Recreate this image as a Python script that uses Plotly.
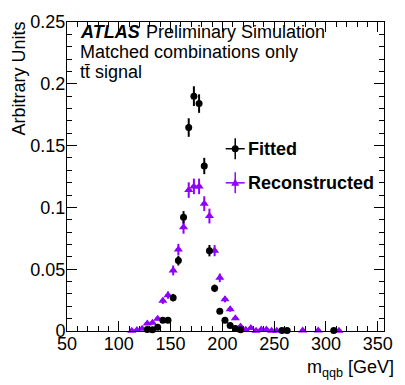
import plotly.graph_objects as go

# Invariant mass of the hadronic top candidate, 5 GeV bins (bin centres in GeV)
fit_mass = [127.5, 132.5, 137.5, 142.5, 147.5, 152.5, 157.5, 162.5, 167.5, 172.5,
            177.5, 182.5, 187.5, 192.5, 197.5, 202.5, 207.5, 212.5, 217.5,
            257.5, 262.5, 307.5]
fit_val = [0.0013, 0.0010, 0.0030, 0.0087, 0.0087, 0.0270, 0.0570, 0.0920, 0.1646, 0.1900,
           0.1840, 0.1335, 0.0650, 0.0345, 0.0160, 0.0087, 0.0045, 0.0020, 0.0010,
           0.0005, 0.0005, 0.0005]
fit_err = [0.0008, 0.0008, 0.0010, 0.0015, 0.0015, 0.0030, 0.0040, 0.0050, 0.0075, 0.0080,
           0.0075, 0.0066, 0.0046, 0.0030, 0.0020, 0.0015, 0.0010, 0.0008, 0.0005,
           0.0004, 0.0004, 0.0004]

reco_mass = [112.5, 117.5, 122.5, 127.5, 132.5, 137.5, 142.5, 147.5, 152.5, 157.5,
             162.5, 167.5, 172.5, 177.5, 182.5, 187.5, 192.5, 197.5, 202.5, 207.5,
             212.5, 217.5, 222.5, 227.5, 232.5, 237.5, 242.5, 247.5, 252.5,
             277.5, 292.5, 312.5]
reco_val = [0.0003, 0.0008, 0.0018, 0.0060, 0.0066, 0.0100, 0.0244, 0.0290, 0.0490, 0.0660,
            0.0840, 0.1140, 0.1170, 0.1170, 0.1030, 0.0930, 0.0650, 0.0430, 0.0257, 0.0176,
            0.0103, 0.0037, 0.0010, 0.0025, 0.0003, 0.0013, 0.0013, 0.0003, 0.0003,
            0.0004, 0.0004, 0.0003]
reco_err = [0.0005, 0.0005, 0.0008, 0.0012, 0.0012, 0.0015, 0.0025, 0.0030, 0.0040, 0.0045,
            0.0053, 0.0063, 0.0063, 0.0063, 0.0060, 0.0060, 0.0045, 0.0035, 0.0025, 0.0020,
            0.0015, 0.0010, 0.0005, 0.0008, 0.0004, 0.0006, 0.0006, 0.0004, 0.0004,
            0.0004, 0.0004, 0.0004]

half_bin = 2.5
series_names = ["Fitted", "Reconstructed"]
black = "#000000"
violet = "#8F00FF"
FONT = "Liberation Sans, Arial, Helvetica, sans-serif"
FS = 18

W, H = 405, 385
ML, MR, MT, MB = 67, 12, 14, 54
PW, PH = W - ML - MR, H - MT - MB


def px_x(x):
    return (x - ML) / PW


def px_y(y):
    return (H - MB - y) / PH


fig = go.Figure()

fig.add_trace(go.Scatter(
    x=reco_mass, y=reco_val, mode="markers", name=series_names[1],
    marker=dict(symbol="triangle-up", size=8, color=violet),
    error_y=dict(type="data", array=reco_err, color=violet, thickness=2, width=0),
    error_x=dict(type="constant", value=half_bin, color=violet, thickness=2, width=0),
    cliponaxis=False, showlegend=False,
))
fig.add_trace(go.Scatter(
    x=fit_mass, y=fit_val, mode="markers", name=series_names[0],
    marker=dict(symbol="circle", size=7, color=black),
    error_y=dict(type="data", array=fit_err, color=black, thickness=2, width=0),
    error_x=dict(type="constant", value=half_bin, color=black, thickness=2, width=0),
    cliponaxis=False, showlegend=False,
))

axis_common = dict(
    showgrid=False, zeroline=False, showline=True, linecolor="black", linewidth=1,
    mirror="allticks", ticks="inside", ticklen=10, tickwidth=1, tickcolor="black",
    tickfont=dict(family=FONT, size=FS, color="black"),
)
fig.update_xaxes(range=[50, 356], tick0=50, dtick=50, ticklabelstandoff=-4,
                 minor=dict(ticks="inside", ticklen=5, dtick=10, tick0=50, tickcolor="black"),
                 **axis_common)
fig.update_yaxes(range=[0, 0.25], tick0=0, dtick=0.05, ticklabelstandoff=-3,
                 minor=dict(ticks="inside", ticklen=5, dtick=0.01, tick0=0, tickcolor="black"),
                 **axis_common)

txt_font = dict(family=FONT, size=FS, color="black")
annotations = [
    dict(text="<b><i>ATLAS</i></b>", x=px_x(78.5), y=px_y(24.5), xanchor="left", yanchor="middle",
         font=txt_font),
    dict(text="Preliminary Simulation", x=px_x(146), y=px_y(24.5), xanchor="left", yanchor="middle",
         font=txt_font),
    dict(text="Matched combinations only", x=px_x(78.5), y=px_y(45), xanchor="left",
         yanchor="middle", font=txt_font),
    dict(text="tt\u0304 signal", x=px_x(78.5), y=px_y(65), xanchor="left", yanchor="middle",
         font=txt_font),
    dict(text="Arbitrary Units", textangle=-90, x=px_x(18), y=px_y(11), xanchor="center",
         yanchor="top", font=txt_font),
    dict(text="m<sub>qqb</sub> [GeV]", x=px_x(405), y=px_y(369), xanchor="right",
         yanchor="middle", font=txt_font),
]

# Legend key: marker with error-bar cross, followed by bold label
legend_rows = [
    (series_names[0], 144, black, "circle"),
    (series_names[1], 179, violet, "triangle"),
]
shapes = []
key_x = px_x(240)
for label, ypx, col, sym in legend_rows:
    ky = px_y(ypx)
    shapes.append(dict(type="line", xref="paper", yref="paper", xsizemode="pixel", ysizemode="pixel",
                       xanchor=key_x, yanchor=ky, x0=-9.5, x1=9.5, y0=0, y1=0,
                       line=dict(color=col, width=1.5)))
    shapes.append(dict(type="line", xref="paper", yref="paper", xsizemode="pixel", ysizemode="pixel",
                       xanchor=key_x, yanchor=ky, x0=0, x1=0, y0=-10.5, y1=10.5,
                       line=dict(color=col, width=1.5)))
    if sym == "circle":
        shapes.append(dict(type="circle", xref="paper", yref="paper", xsizemode="pixel",
                           ysizemode="pixel", xanchor=key_x, yanchor=ky,
                           x0=-3.5, x1=3.5, y0=-3.5, y1=3.5, fillcolor=col, line=dict(width=0)))
    else:
        shapes.append(dict(type="path", xref="paper", yref="paper", xsizemode="pixel",
                           ysizemode="pixel", xanchor=key_x, yanchor=ky,
                           path="M -4,-3 L 4,-3 L 0,4 Z", fillcolor=col, line=dict(width=0)))
    annotations.append(dict(text="<b>%s</b>" % label, x=px_x(251), y=ky, xanchor="left",
                            yanchor="middle", font=txt_font))

for a in annotations:
    a.update(xref="paper", yref="paper", showarrow=False)

fig.update_layout(
    width=W, height=H, margin=dict(l=ML, r=MR, t=MT, b=MB, pad=0),
    paper_bgcolor="white", plot_bgcolor="white",
    annotations=annotations, shapes=shapes, showlegend=False,
    font=txt_font,
)

fig.write_html("out.html")
